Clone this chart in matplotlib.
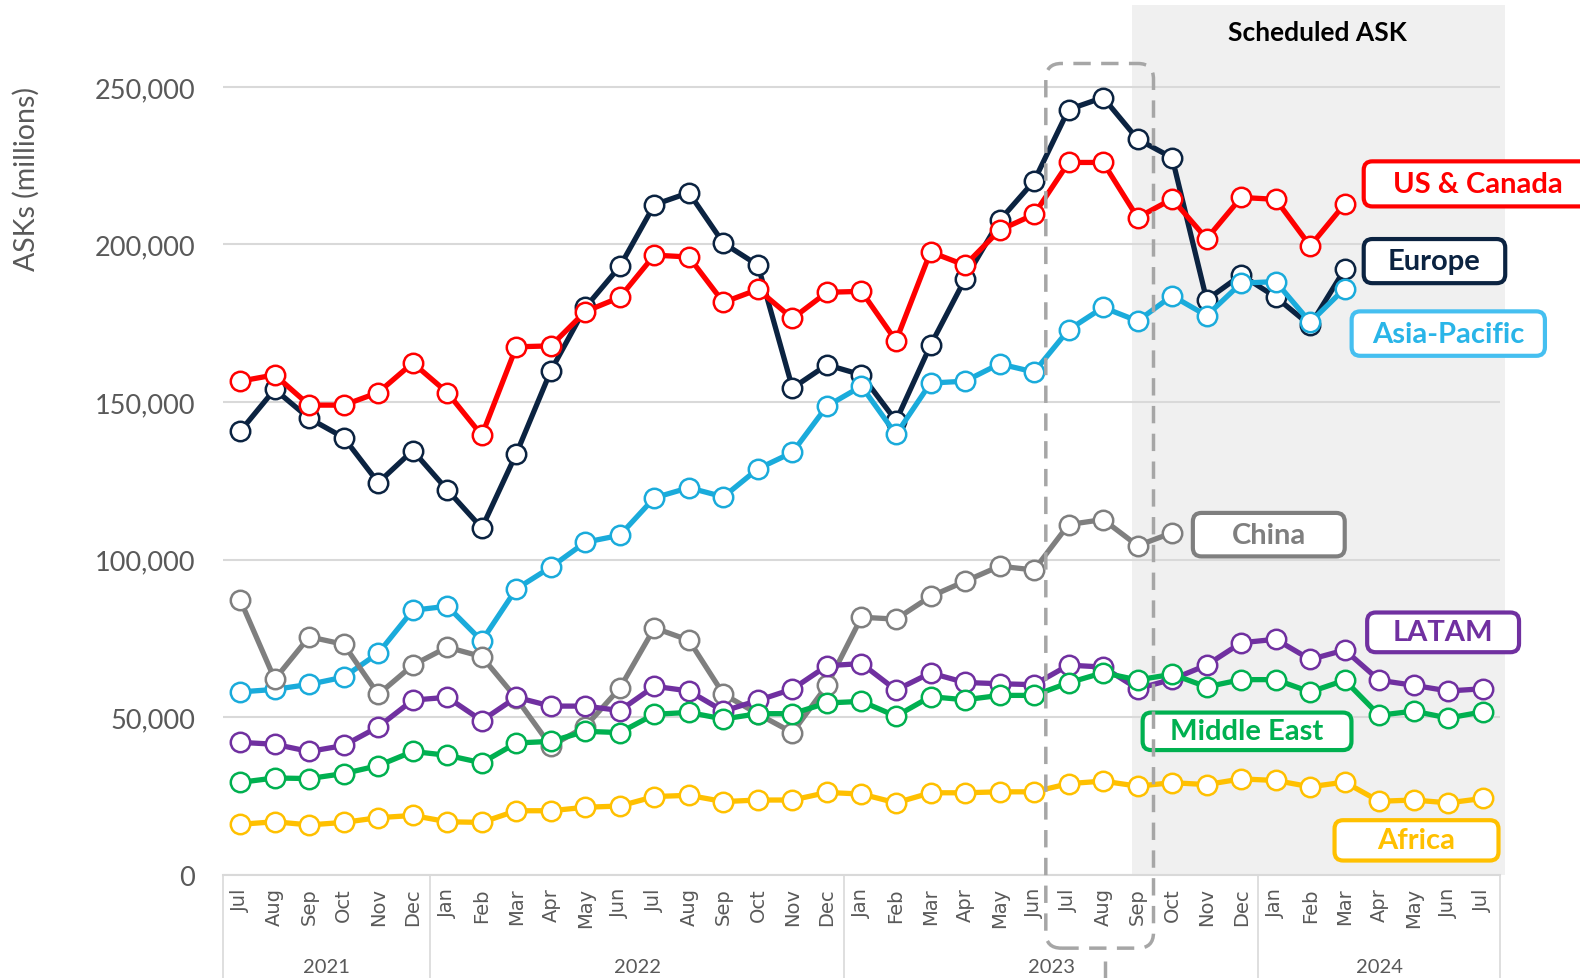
import matplotlib
matplotlib.use("Agg")
import matplotlib.pyplot as plt
from matplotlib.patches import FancyBboxPatch
import matplotlib.transforms as mtransforms

plt.rcParams['font.family'] = ['Lato', 'DejaVu Sans']

# months Jul 2021 .. Jul 2024
months = ['Jul', 'Aug', 'Sep', 'Oct', 'Nov', 'Dec',
          'Jan', 'Feb', 'Mar', 'Apr', 'May', 'Jun', 'Jul', 'Aug', 'Sep', 'Oct', 'Nov', 'Dec',
          'Jan', 'Feb', 'Mar', 'Apr', 'May', 'Jun', 'Jul', 'Aug', 'Sep', 'Oct', 'Nov', 'Dec',
          'Jan', 'Feb', 'Mar', 'Apr', 'May', 'Jun', 'Jul']
years = ['2021', '2022', '2023', '2024']
year_sizes = [6, 12, 12, 7]

# ASKs (millions)
us_canada = [156600, 158600, 149000, 149000, 153000, 162400, 153000, 139400, 167500, 167800,
             178700, 183200, 196600, 196000, 181600, 185700, 176500, 184800, 185100, 169400,
             197600, 193400, 204500, 209500, 226000, 226000, 208500, 214400, 201800, 214900,
             214300, 199500, 212800]
europe = [140700, 154000, 144800, 138700, 124400, 134600, 122100, 110000, 133600, 159900,
          180000, 193000, 212600, 216400, 200400, 193400, 154400, 161800, 158600, 144000,
          168000, 189000, 207600, 220100, 242800, 246600, 233400, 227500, 182400, 190300,
          183300, 174300, 192100]
asia_pacific = [58000, 58800, 60400, 62700, 70300, 83900, 85200, 74200, 90700, 97600,
                105500, 107700, 119600, 122800, 119900, 128800, 134000, 148700, 155000, 139700,
                156000, 156600, 162100, 159500, 172900, 180000, 175700, 183700, 177400, 187700,
                188200, 175300, 186000]
china = [87200, 62000, 75500, 73100, 57200, 66500, 72200, 69200, 56000, 40800,
         47000, 59200, 78300, 74400, 57300, 51000, 45100, 60100, 81700, 81100,
         88300, 93100, 97900, 96700, 111100, 112700, 104400, 108500]
latam = [42000, 41400, 39100, 41000, 46900, 55400, 56300, 48900, 56300, 53500,
         53500, 52100, 59800, 58300, 51900, 55300, 58900, 66300, 67000, 58600,
         64000, 61000, 60600, 60300, 66500, 65900, 59000, 62000, 66500, 73600,
         74700, 68300, 71300, 61700, 60100, 58300, 59000]
middle_east = [29300, 30700, 30500, 32100, 34600, 39100, 37900, 35500, 41800, 42300,
               45500, 45100, 50900, 51500, 49400, 51100, 51100, 54500, 55000, 50300,
               56500, 55500, 56900, 56900, 60900, 64100, 61800, 63600, 59600, 61900,
               61900, 58000, 61700, 50600, 51900, 49700, 51700]
africa = [16000, 16800, 15800, 16600, 18100, 18800, 16800, 16600, 20300, 20300,
          21400, 21800, 24800, 25200, 23200, 23700, 23700, 26100, 25600, 22800,
          26000, 26000, 26300, 26300, 28900, 29700, 28100, 29200, 28600, 30400,
          29900, 27900, 29400, 23300, 23700, 22800, 24200]

# series: values, line colour, label text colour, label box edge, label centre (x, y), box size (w, h)
series = [
    ('Europe', europe, '#0B2341', '#0B2341', '#0B2341', (34.6, 194700), (4.1, 14000)),
    ('US & Canada', us_canada, '#FF0000', '#FF0000', '#FF0000', (35.85, 219200), (6.6, 14300)),
    ('Asia-Pacific', asia_pacific, '#1AABDB', '#29B5E8', '#45BFF0', (35.0, 171700), (5.6, 14100)),
    ('China', china, '#7F7F7F', '#7F7F7F', '#7F7F7F', (29.8, 107900), (4.4, 13800)),
    ('LATAM', latam, '#7030A0', '#7030A0', '#7030A0', (34.85, 76900), (4.4, 12600)),
    ('Middle East', middle_east, '#00B050', '#00B050', '#00B050', (29.17, 45500), (6.05, 11900)),
    ('Africa', africa, '#FFC000', '#FFC000', '#FFC000', (34.08, 10900), (4.75, 12800)),
]

fig = plt.figure(figsize=(15.8, 9.79), dpi=100)
ax = fig.add_axes([0.1411, 0.1055, 0.8083, 0.8885])

# forecast shading
ax.axvspan(25.83, 36.65, color='#F0F0F0', zorder=0, lw=0, clip_on=False)
ax.text(31.2, 267500, 'Scheduled ASK', ha='center', va='center', fontsize=19,
        fontweight='bold', color='black', zorder=5)

for name, vals, lc, tc, ec, (cx, cy), (bw, bh) in series:
    ax.plot(range(len(vals)), vals, color=lc, lw=3.8, marker='o', markersize=14,
            markerfacecolor='white', markeredgecolor=lc, markeredgewidth=1.8,
            zorder=3, solid_joinstyle='round')
    box = FancyBboxPatch((cx - bw / 2, cy - bh / 2), bw, bh,
                         boxstyle='round,pad=0,rounding_size=0.25', mutation_aspect=11000,
                         fc='white', ec=ec, lw=3, zorder=6, clip_on=False)
    ax.add_patch(box)
    ax.text(cx, cy, name, ha='center', va='center', fontsize=21, fontweight='bold',
            color=tc, zorder=7, clip_on=False)

# dashed highlight box around Jul-Sep 2023
hl = FancyBboxPatch((23.34, -23300), 3.12, 280700,
                    boxstyle='round,pad=0,rounding_size=0.45', mutation_aspect=11000,
                    fc='none', ec='#A6A6A6', lw=2.5, ls=(0, (5, 3)), zorder=8, clip_on=False)
ax.add_patch(hl)
ax.plot([25.06, 25.06], [-27500, -40000], color='#A6A6A6', lw=2.5, ls=(0, (5, 3)),
        clip_on=False, zorder=8)

ax.set_xlim(-0.5, 36.5)
ax.set_ylim(0, 276000)
ax.set_yticks(range(0, 250001, 50000))
ax.set_yticklabels([f'{v:,}' for v in range(0, 250001, 50000)], fontsize=19.5, color='#595959')
ax.yaxis.grid(True, color='#D9D9D9', lw=1.5)
ax.set_axisbelow(True)
ax.tick_params(axis='y', length=0, pad=20)

ax.set_xticks(range(len(months)))
ax.set_xticklabels(months, rotation=90, fontsize=14, color='#595959', family='DejaVu Sans')
ax.tick_params(axis='x', length=0, pad=9)

for s in ['top', 'right', 'left']:
    ax.spines[s].set_visible(False)
ax.spines['bottom'].set_color('#D9D9D9')
ax.spines['bottom'].set_linewidth(1.5)

# year level of the category axis
trans = mtransforms.blended_transform_factory(ax.transData, ax.transAxes)
start = -0.5
ax.plot([start, start], [0, -0.125], color='#D9D9D9', lw=1.2, transform=trans, clip_on=False)
for yr, n in zip(years, year_sizes):
    end = start + n
    ax.plot([end, end], [0, -0.125], color='#D9D9D9', lw=1.2, transform=trans, clip_on=False)
    ax.text((start + end) / 2, -0.105, yr, ha='center', va='center', fontsize=14.5,
            color='#595959', transform=trans)
    start = end

fig.text(26 / 1580, 1 - 179 / 979, 'ASKs (millions)', rotation=90, ha='center', va='center',
         fontsize=20.5, color='#595959')

fig.savefig('out.png', dpi=100)
